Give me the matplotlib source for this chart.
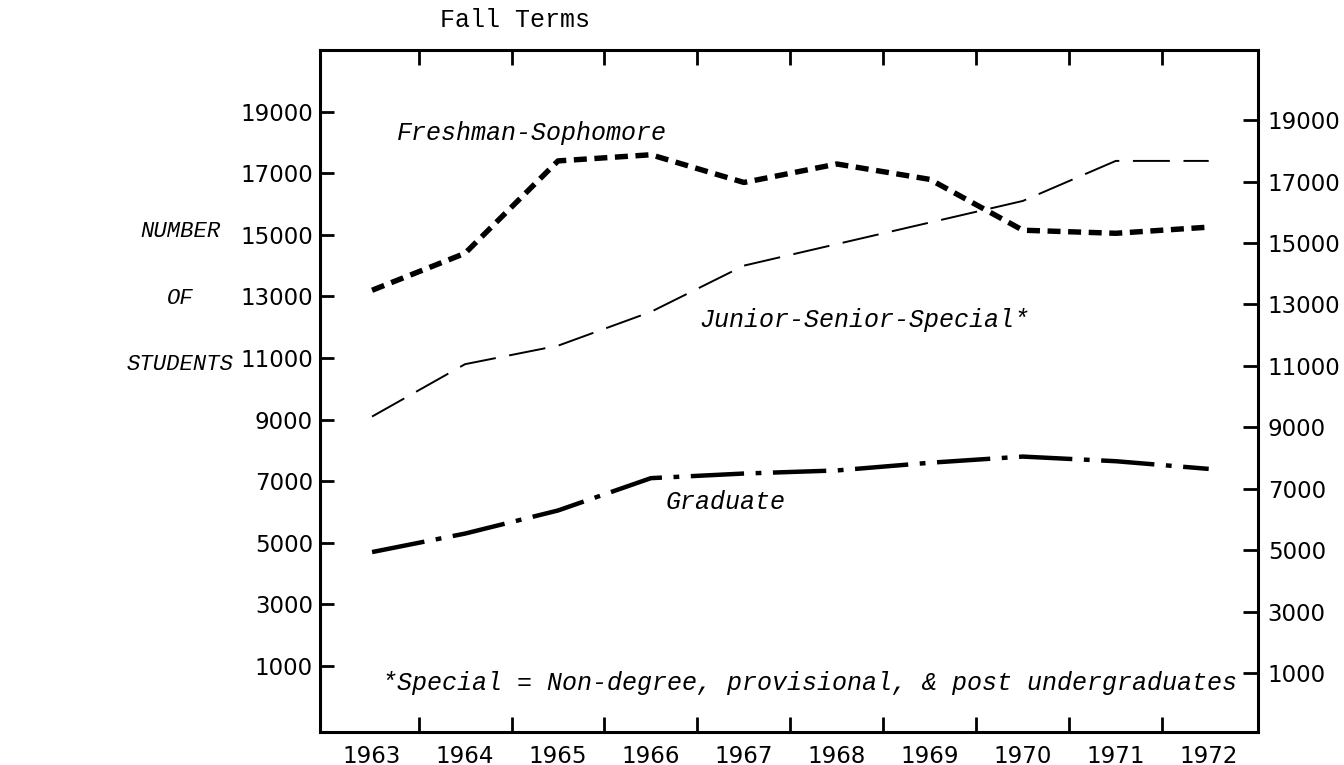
import numpy as np
import matplotlib
matplotlib.use("Agg")
import matplotlib.pyplot as plt

# enrollment, fall terms
years = [1963, 1964, 1965, 1966, 1967, 1968, 1969, 1970, 1971, 1972]
fresh_soph = [13200, 14400, 17400, 17600, 16700, 17300, 16800, 15150, 15050, 15250]
junior_senior = [9100, 10800, 11400, 12500, 14000, 14700, 15400, 16100, 17400, 17400]
graduate = [4700, 5300, 6050, 7100, 7250, 7350, 7600, 7800, 7650, 7400]
y_ticks = [1000, 3000, 5000, 7000, 9000, 11000, 13000, 15000, 17000, 19000]

mono = "Liberation Mono"
num_font = "DejaVu Sans"

fig = plt.figure(figsize=(13.44, 7.65), dpi=100)
ax = fig.add_axes([0.2381, 0.0431, 0.6979, 0.8915])

# the three series
l1, = ax.plot(years, fresh_soph, color="black", lw=3.9)
l1.set_dashes([2.4, 1.4])
l2, = ax.plot(years, junior_senior, color="black", lw=1.4)
l2.set_dashes([19, 7])
l3, = ax.plot(years, graduate, color="black", lw=3.2)
l3.set_dashes([12, 2.6, 1.3, 2.6])

ax.set_xlim(1962.44, 1972.53)
ax.set_ylim(-1143, 21000)

for s in ax.spines.values():
    s.set_linewidth(2.2)

# ticks between the years, year labels centred in between
ax.set_xticks(np.array(years[:-1]) + 0.5)
ax.set_xticklabels([])
ax.set_xticks(years, minor=True)
ax.set_xticklabels([str(y) for y in years], minor=True, fontsize=16.5, family=num_font)
ax.tick_params(axis="x", which="major", direction="in", length=11, width=2,
               top=True, bottom=True)
ax.tick_params(axis="x", which="minor", length=0, pad=9)

ax.set_yticks(y_ticks)
ax.set_yticklabels([str(v) for v in y_ticks], fontsize=16.5, family=num_font)
ax.tick_params(axis="y", direction="in", length=10, width=2, pad=5)

# right hand axis (sits slightly lower on the scan)
ax2 = ax.twinx()
ax2.set_ylim(-921, 21280)
ax2.set_yticks(y_ticks)
ax2.set_yticklabels([str(v) for v in y_ticks], fontsize=16.5, family=num_font)
ax2.tick_params(axis="y", direction="in", length=11, width=2, pad=7)
for s in ax2.spines.values():
    s.set_visible(False)

# series labels
lab = dict(fontsize=18, family=mono, style="italic", ha="center", va="center")
ax.text(1964.72, 18300, "Freshman-Sophomore", **lab)
ax.text(1968.3, 12230, "Junior-Senior-Special*", **lab)
ax.text(1966.8, 6320, "Graduate", **lab)
ax.text(1967.71, 450, "*Special = Non-degree, provisional, & post undergraduates", **lab)

side = dict(fontsize=16, family=mono, style="italic", ha="center", va="center")
fig.text(0.134, 0.697, "NUMBER", **side)
fig.text(0.134, 0.610, "OF", **side)
fig.text(0.134, 0.524, "STUDENTS", **side)

fig.text(0.383, 0.974, "Fall Terms", fontsize=18, family=mono, ha="center", va="center")

fig.savefig("out.png", dpi=100, facecolor="white")
